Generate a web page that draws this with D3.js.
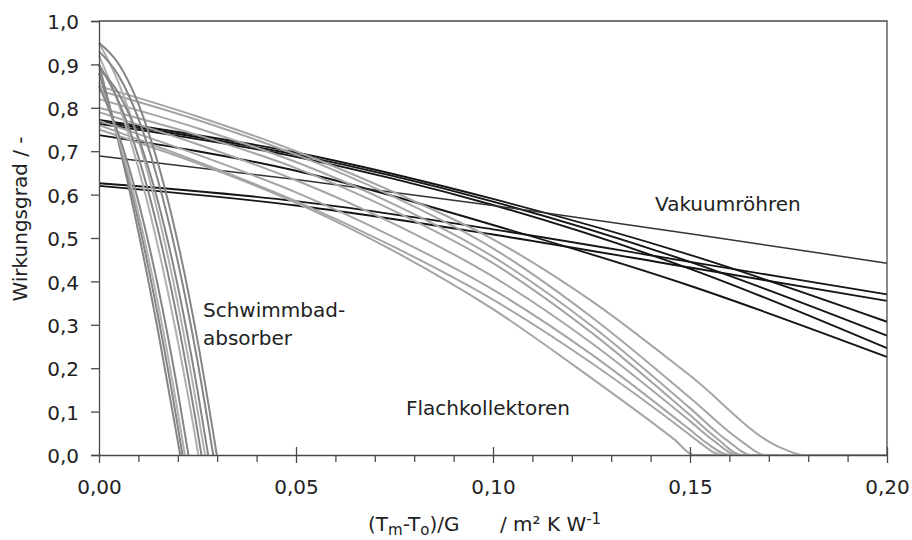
<!DOCTYPE html>
<html>
<head>
<meta charset="utf-8">
<script src="https://cdn.jsdelivr.net/npm/d3@7"></script>
<style>
  html, body { margin: 0; padding: 0; background: #fff; }
  svg { display: block; font-family: "DejaVu Sans", Verdana, sans-serif; }
</style>
</head>
<body>
<svg id="chart" width="912" height="540"></svg>
<script>
// ---------- data ----------
const xTickValues = [0, 0.05, 0.10, 0.15, 0.20];
const xTickLabels = ["0,00", "0,05", "0,10", "0,15", "0,20"];
const xMinorTicks = [0.01, 0.02, 0.03, 0.04, 0.06, 0.07, 0.08, 0.09, 0.11, 0.12, 0.13, 0.14, 0.16, 0.17, 0.18, 0.19];
const yTickValues = [0, 0.1, 0.2, 0.3, 0.4, 0.5, 0.6, 0.7, 0.8, 0.9, 1.0];
const yTickLabels = ["0,0", "0,1", "0,2", "0,3", "0,4", "0,5", "0,6", "0,7", "0,8", "0,9", "1,0"];

// Vakuumröhren (evacuated tube collectors)
const vacuumX = [0, 0.05, 0.10, 0.15, 0.20];
const vacuum1 = [0.772, 0.697, 0.590, 0.461, 0.307];
const vacuum2 = [0.768, 0.692, 0.584, 0.445, 0.275];
const vacuum3 = [0.763, 0.687, 0.576, 0.429, 0.246];
const vacuum4 = [0.737, 0.655, 0.530, 0.390, 0.226];
const vacuum5 = [0.689, 0.635, 0.575, 0.510, 0.442];
const vacuum6 = [0.626, 0.585, 0.520, 0.445, 0.370];
const vacuum7 = [0.620, 0.575, 0.508, 0.432, 0.355];

// Flachkollektoren (flat plate collectors)
const flatX = [0, 0.025, 0.05, 0.075, 0.10, 0.125, 0.15];
const flat1 = [0.85, 0.780, 0.700, 0.605, 0.497, 0.355, 0.183];
const flat2 = [0.84, 0.772, 0.692, 0.594, 0.476, 0.318, 0.132];
const flat3 = [0.82, 0.753, 0.675, 0.577, 0.457, 0.298, 0.108];
const flat4 = [0.80, 0.737, 0.661, 0.562, 0.442, 0.282, 0.092];
const flat5 = [0.79, 0.716, 0.633, 0.532, 0.411, 0.258, 0.078];
const flat6 = [0.77, 0.692, 0.605, 0.501, 0.381, 0.232, 0.058];
const flat7 = [0.76, 0.676, 0.585, 0.479, 0.358, 0.212, 0.046];
const flat8 = [0.75, 0.672, 0.581, 0.469, 0.336, 0.177];
// last point before the curve meets the axis, and where it meets it
const flatKneeX = [0.173, 0.163, 0.1595, 0.157, 0.156, 0.154, 0.152, 0.146];
const flatKnee  = [0.017, 0.032, 0.033, 0.037, 0.033, 0.029, 0.032, 0.036];
const flatZeroAt = [0.179, 0.169, 0.1655, 0.163, 0.162, 0.160, 0.158, 0.151];

// Schwimmbadabsorber (unglazed pool absorbers)
const poolX = [0, 0.005, 0.01, 0.015, 0.02, 0.025];
const poolZeroAt = [0.0206, 0.0212, 0.0218, 0.0227, 0.0252, 0.0260, 0.0269, 0.0277, 0.0290, 0.0299];
const pool1 = [0.90, 0.719, 0.514, 0.285, 0.032];
const pool2 = [0.88, 0.726, 0.539, 0.319, 0.066];
const pool3 = [0.86, 0.728, 0.557, 0.347, 0.099];
const pool4 = [0.85, 0.738, 0.584, 0.387, 0.147];
const pool5 = [0.92, 0.808, 0.661, 0.479, 0.262, 0.011];
const pool6 = [0.90, 0.814, 0.687, 0.518, 0.308, 0.055];
const pool7 = [0.95, 0.857, 0.726, 0.556, 0.349, 0.103];
const pool8 = [0.89, 0.833, 0.731, 0.583, 0.389, 0.149];
const pool9 = [0.93, 0.874, 0.775, 0.632, 0.446, 0.216];
const pool10 = [0.95, 0.901, 0.809, 0.671, 0.490, 0.264];

const xMax = 0.20;

// ---------- drawing ----------
const svg = d3.select("#chart");
const L = 99, R = 887, T = 21, B = 455;
const x = d3.scaleLinear().domain([0, 0.2]).range([L, R]);
const y = d3.scaleLinear().domain([0, 1]).range([B, T]);

const line = d3.line().x(d => x(d[0])).y(d => y(d[1])).curve(d3.curveMonotoneX);

const vacuumSeries = [vacuum1, vacuum2, vacuum3, vacuum4, vacuum5, vacuum6, vacuum7];
const flatSeries = [flat1, flat2, flat3, flat4, flat5, flat6, flat7, flat8];
const poolSeries = [pool1, pool2, pool3, pool4, pool5, pool6, pool7, pool8, pool9, pool10];
const poolColors = ["#858585", "#858585", "#b0b0b0", "#858585", "#b0b0b0", "#858585", "#b0b0b0", "#858585", "#858585", "#858585"];

const plot = svg.append("g");

// vacuum tubes
vacuumSeries.forEach((s, i) => {
  const pts = s.map((v, k) => [vacuumX[k], v]);
  plot.append("path").attr("d", line(pts)).attr("fill", "none")
    .attr("stroke", i === 4 ? "#333" : "#151515")
    .attr("stroke-width", i === 4 ? 1.5 : 1.9);
});

// flat plate collectors
flatSeries.forEach((s, i) => {
  const pts = s.map((v, k) => [flatX[k], v]).filter(p => p[0] < flatKneeX[i]);
  pts.push([flatKneeX[i], flatKnee[i]]);
  pts.push([flatZeroAt[i], 0]);
  pts.push([xMax, 0]);
  plot.append("path").attr("d", line(pts)).attr("fill", "none")
    .attr("stroke", "#a5a5a5").attr("stroke-width", 2);
});

// pool absorbers
poolSeries.forEach((s, i) => {
  const pts = s.map((v, k) => [poolX[k], v]).filter(p => p[0] < poolZeroAt[i]);
  pts.push([poolZeroAt[i], 0]);
  plot.append("path").attr("d", line(pts)).attr("fill", "none")
    .attr("stroke", poolColors[i]).attr("stroke-width", 2);
});

// frame (top and right)
svg.append("path")
  .attr("d", `M${x(0)},${y(1)}H${x(0.2)}V${y(0)}`)
  .attr("fill", "none").attr("stroke", "#4a4a4a").attr("stroke-width", 1.3);

// y axis
const yAxis = svg.append("g").attr("transform", `translate(${L},0)`)
  .call(d3.axisLeft(y).tickValues(yTickValues).tickSize(8).tickPadding(12)
    .tickFormat((d, i) => yTickLabels[i]));
yAxis.select(".domain").attr("stroke", "#4a4a4a").attr("stroke-width", 1.3);
yAxis.selectAll(".tick line").attr("stroke", "#4a4a4a").attr("stroke-width", 1.3);
yAxis.selectAll(".tick text").attr("font-size", 20).attr("fill", "#222")
  .attr("font-family", "DejaVu Sans").attr("dy", "0.38em");

// x axis (minor + major)
const allX = xTickValues.concat(xMinorTicks).sort((a, b) => a - b);
const isMajor = d => xTickValues.some(v => Math.abs(v - d) < 1e-9);
const xAxis = svg.append("g").attr("transform", `translate(0,${B})`)
  .call(d3.axisBottom(x).tickValues(allX).tickSize(7).tickSizeOuter(0)
    .tickFormat(d => {
      const idx = xTickValues.findIndex(v => Math.abs(v - d) < 1e-9);
      return idx >= 0 ? xTickLabels[idx] : "";
    }));
xAxis.select(".domain").attr("stroke", "#4a4a4a").attr("stroke-width", 1.3);
xAxis.selectAll(".tick line")
  .attr("stroke", "#4a4a4a").attr("stroke-width", 1.3)
  .attr("y1", d => (isMajor(d) && d > 0) ? -8 : 0)
  .attr("y2", d => isMajor(d) ? 8 : 7);
xAxis.selectAll(".tick text").attr("font-size", 20).attr("fill", "#222")
  .attr("font-family", "DejaVu Sans").attr("y", 39).attr("dy", 0);

// axis titles
svg.append("text")
  .attr("transform", `translate(27,219) rotate(-90)`)
  .attr("text-anchor", "middle").attr("font-size", 20).attr("fill", "#222")
  .text("Wirkungsgrad / -");

const xt = svg.append("text").attr("x", 368).attr("y", 531)
  .attr("font-size", 20).attr("fill", "#222");
xt.append("tspan").text("(T");
xt.append("tspan").attr("font-size", 15).attr("dy", 4).text("m");
xt.append("tspan").attr("dy", -4).text("-T");
xt.append("tspan").attr("font-size", 15).attr("dy", 4).text("o");
xt.append("tspan").attr("dy", -4).text(")/G");

const xt2 = svg.append("text").attr("x", 500).attr("y", 531)
  .attr("font-size", 20).attr("fill", "#222");
xt2.append("tspan").text("/ m² K W");
xt2.append("tspan").attr("font-size", 15).attr("dy", -7).text("-1");

// group labels
const lab = (tx, ty, s) => svg.append("text").attr("x", tx).attr("y", ty)
  .attr("font-size", 20).attr("fill", "#222").text(s);
lab(655, 211, "Vakuumröhren");
lab(203, 317, "Schwimmbad-");
lab(203, 345, "absorber");
lab(406, 415, "Flachkollektoren");
</script>
</body>
</html>
